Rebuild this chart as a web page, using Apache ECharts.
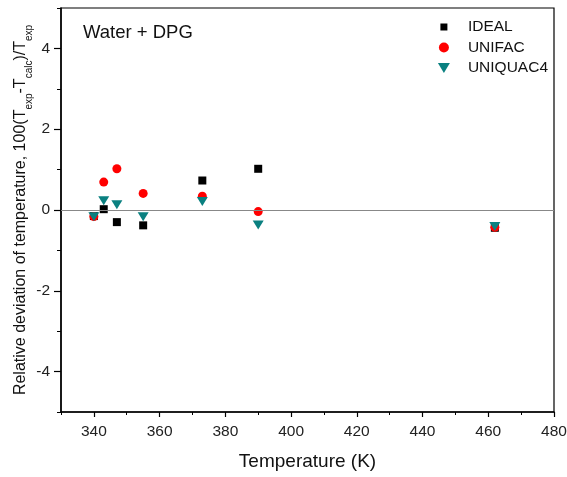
<!DOCTYPE html>
<html>
<head>
<meta charset="utf-8">
<script src="https://cdn.jsdelivr.net/npm/echarts@6/dist/echarts.min.js"></script>
<style>
  html, body { margin: 0; padding: 0; background: #fff; }
  #chart { width: 567px; height: 477px; }
</style>
</head>
<body>
<div id="chart"></div>
<script>
// data
var temps = [340, 343, 347, 355, 373, 390, 462];
var ideal = [-0.15, 0.02, -0.30, -0.38, 0.73, 1.02, -0.44];
var unifac = [-0.16, 0.69, 1.02, 0.41, 0.34, -0.04, -0.43];
var uniquac = [-0.17, 0.23, 0.13, -0.17, 0.21, -0.37, -0.41];
var xMajor = [340, 360, 380, 400, 420, 440, 460, 480];
var yMajor = [-4, -2, 0, 2, 4];

function pairs(vals){
  return temps.map(function(t, i){ return [t, vals[i]] })
}

var font = 'Liberation Sans, Arial, sans-serif'
var myChart = echarts.init(document.getElementById('chart'));
var option = {
  animation: false,
  grid: {
    left: 61, right: 13, top: 8, bottom: 65, outerBoundsMode: 'none',
    show: true, borderColor: '#000', borderWidth: 1.2
  },
  title: {
    text: 'Water + DPG', left: 83, top: 23, padding: 0,
    textStyle: { fontFamily: font, fontSize: 18.5, fontWeight: 'normal', color: '#111' }
  },
  legend: {
    orient: 'vertical', right: 19, top: 19, padding: 0,
    itemGap: 4.5, itemWidth: 12, itemHeight: 10,
    textStyle: { fontFamily: font, fontSize: 15.5, color: '#111', padding: [0, 0, 0, 13] },
    data: [
      // square drawn smaller inside the icon box
      { name: 'IDEAL', icon: 'path://M0,0 M12,10 M2.5,1.5 L9.5,1.5 L9.5,8.5 L2.5,8.5 Z', itemStyle: { color: '#000' } },
      { name: 'UNIFAC', icon: 'circle' },
      { name: 'UNIQUAC4', icon: 'path://M0,0 L12,0 L6,10 Z' }
    ]
  },
  xAxis: [
    {
      type: 'value', min: 330, max: 480, interval: 10,
      name: 'Temperature (K)', nameLocation: 'middle', nameGap: 40, nameMoveOverlap: false,
      nameTextStyle: { fontFamily: font, fontSize: 19, color: '#111' },
      axisLine: { onZero: false, lineStyle: { color: '#000', width: 1.5 } },
      axisTick: { show: true, inside: false, length: 3, lineStyle: { color: '#000' } },
      axisLabel: {
        margin: 12, fontFamily: font, fontSize: 15.5, color: '#222',
        formatter: function(v){ return xMajor.indexOf(v) >= 0 ? String(v) : '' }
      },
      splitLine: { show: false }
    },
    {
      type: 'value', min: 330, max: 480, position: 'bottom', offset: 0,
      axisLine: { show: false, onZero: false },
      axisTick: { show: true, inside: false, length: 5, customValues: xMajor, lineStyle: { color: '#000', width: 1.2 } },
      axisLabel: { show: false },
      splitLine: { show: false }
    }
  ],
  yAxis: [
    {
      type: 'value', min: -5, max: 5, interval: 1,
      name: '{n|Relative deviation of temperature, 100(T}{s|exp}{n|-T}{s|calc}{n|)/T}{s|exp}',
      nameLocation: 'middle', nameGap: 32, nameRotate: 90, nameMoveOverlap: false,
      nameTextStyle: {
        rich: {
          n: { fontFamily: font, fontSize: 16, color: '#111', lineHeight: 22, verticalAlign: 'bottom' },
          s: { fontFamily: font, fontSize: 10, color: '#111', lineHeight: 22, verticalAlign: 'bottom', padding: [0, 0, -5, 0] }
        }
      },
      axisLine: { onZero: false, lineStyle: { color: '#000', width: 1.5 } },
      axisTick: { show: true, inside: false, length: 4, lineStyle: { color: '#000' } },
      axisLabel: {
        margin: 11, fontFamily: font, fontSize: 15.5, color: '#222',
        formatter: function(v){ return yMajor.indexOf(v) >= 0 ? String(v) : '' }
      },
      splitLine: { show: false }
    },
    {
      type: 'value', min: -5, max: 5, position: 'left', offset: 0,
      axisLine: { show: false, onZero: false },
      axisTick: { show: true, inside: false, length: 7, customValues: yMajor, lineStyle: { color: '#000', width: 1.2 } },
      axisLabel: { show: false },
      splitLine: { show: false }
    }
  ],
  series: [
    {
      name: 'IDEAL', type: 'scatter', symbol: 'rect', symbolSize: 8,
      itemStyle: { color: '#000', opacity: 1 },
      data: pairs(ideal),
      z: 3,
      markLine: {
        silent: true, symbol: 'none', label: { show: false },
        lineStyle: { color: '#888', width: 1.2, type: 'solid' },
        data: [{ yAxis: 0 }]
      }
    },
    {
      name: 'UNIFAC', type: 'scatter', symbol: 'circle', symbolSize: 9,
      itemStyle: { color: '#ff0000', opacity: 1 },
      data: pairs(unifac),
      z: 4
    },
    {
      name: 'UNIQUAC4', type: 'scatter', symbol: 'triangle', symbolSize: [11, 9], symbolRotate: 180,
      itemStyle: { color: '#0a8080', opacity: 1 },
      data: pairs(uniquac),
      z: 5
    }
  ]
};
myChart.setOption(option);
window.addEventListener('resize', function(){ myChart.resize() });
</script>
</body>
</html>
